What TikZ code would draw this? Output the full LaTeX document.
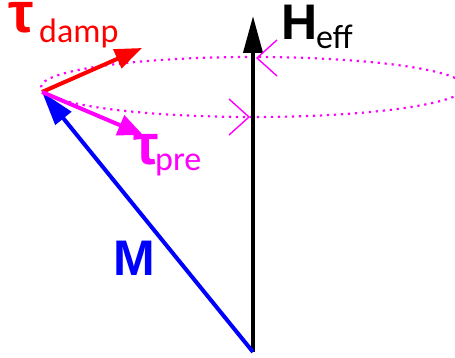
\documentclass[tikz,border=0pt]{standalone}
\usepackage{fontspec}
\setmainfont{Carlito}
\newfontfamily\bigfont{Liberation Sans}
\usetikzlibrary{arrows.meta}
\definecolor{mag}{RGB}{255,0,255}
\definecolor{rd}{RGB}{255,0,0}
\definecolor{bl}{RGB}{0,0,255}
\tikzset{
  vec/.style={line width=4pt},
  lbl/.style={inner sep=0pt, anchor=base west},
  big/.style={lbl, font=\bigfont\fontsize{50}{55}\selectfont\bfseries},
  tau/.style={lbl, font=\bigfont\fontsize{57}{60}\selectfont\bfseries},
  sub/.style={lbl, font=\fontsize{34}{38}\selectfont},
  orbit/.style={mag, line width=2.2pt, dash pattern=on 2.2pt off 4.8pt},
  chev/.style={mag, line width=1.4pt}
}
\begin{document}
\begin{tikzpicture}[x=1pt,y=-1pt]
\useasboundingbox (0,0) rectangle (455,358);
\coordinate (O) at (253,352);
\coordinate (Htip) at (253,16);
\coordinate (Mtip) at (42,92);
\coordinate (Dtip) at (142,48);
\coordinate (Ptip) at (143,135);
\coordinate (C) at (253,87);
\begin{scope}
\clip (0,0) rectangle (455,358);
\draw[orbit] (C) ellipse [x radius=212pt, y radius=30pt];
\end{scope}
\draw[vec, black, -{Triangle[length=37pt,width=19pt]}] (O) -- (Htip);
\draw[vec, bl, -{Triangle[length=34pt,width=20pt]}] (O) -- (Mtip);
\draw[vec, rd, -{Triangle[length=27pt,width=20pt]}] (Mtip) -- (Dtip);
\draw[vec, mag, -{Triangle[length=25pt,width=21pt]}] (Mtip) -- (Ptip);
\coordinate (c1) at (257,58);
\coordinate (c2) at (249,117);
\draw[chev] (277,40) -- (c1) -- (277,76);
\draw[chev] (229,99) -- (c2) -- (229,135);
\node[tau, rd] (td) at (8,33) {τ};
\node[sub, rd] (tds) at (39,43) {damp};
\node[big, black] (H) at (281,40) {H};
\node[sub, black] (Hs) at (316,49) {eff};
\node[tau, mag] (tp) at (133,165) {τ};
\node[sub, mag] (tps) at (155,171) {pre};
\node[big, bl] (M) at (113,275) {M};
\end{tikzpicture}
\end{document}
